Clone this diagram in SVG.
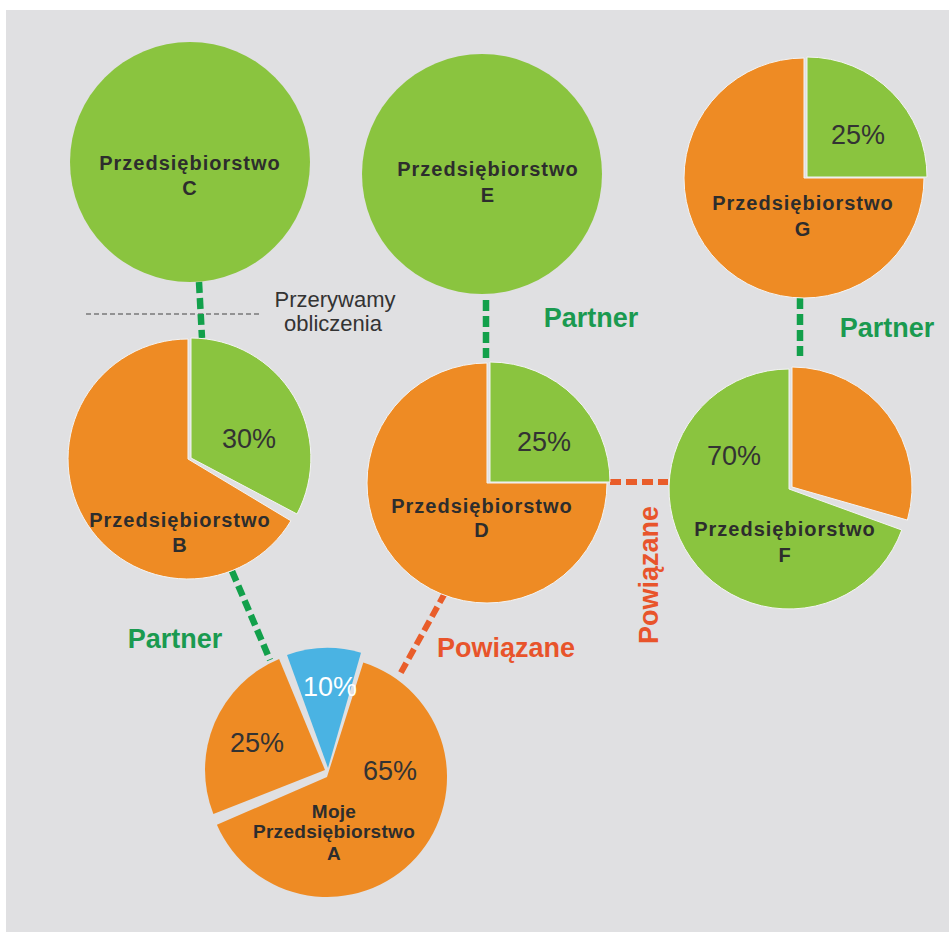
<svg xmlns="http://www.w3.org/2000/svg" width="949" height="932" viewBox="0 0 949 932">
<style>
.g{fill:#8ac43f}
.o{fill:#ee8b24}
.b{fill:#4ab3e3}
.sl{stroke:#f4f4f4;stroke-width:1}
.nl{font-family:"Liberation Sans",Arial,sans-serif;font-weight:bold;font-size:20px;letter-spacing:1px;fill:#2d2d2d;text-anchor:middle}
.al{font-family:"Liberation Sans",Arial,sans-serif;font-weight:bold;font-size:19px;letter-spacing:0.3px;fill:#2d2d2d;text-anchor:middle}
.pc{font-family:"Liberation Sans",Arial,sans-serif;font-size:27px;fill:#333;text-anchor:middle}
.lp{font-family:"Liberation Sans",Arial,sans-serif;font-weight:bold;font-size:27px;fill:#1a9a50;text-anchor:middle}
.lr{font-family:"Liberation Sans",Arial,sans-serif;font-weight:bold;font-size:27px;fill:#e8542b;text-anchor:middle}
.cg{stroke:#12a04b;stroke-width:6.5;stroke-dasharray:11 5;fill:none}
.cr{stroke:#e95d2a;stroke-width:6;stroke-dasharray:11 5;fill:none}
</style>
<rect x="6" y="10" width="943" height="922" fill="#e0e0e2"/>

<g id="connectors">
<line x1="86" y1="314" x2="262" y2="314" stroke="#444" stroke-width="1" stroke-dasharray="5 3"/>
<line class="cg" x1="199" y1="282" x2="202" y2="338"/>
<line class="cg" x1="486" y1="300" x2="486" y2="358"/>
<line class="cg" x1="800" y1="298" x2="800" y2="356"/>
<line class="cg" x1="232" y1="571" x2="270" y2="660"/>
<line class="cr" x1="445" y1="593" x2="399" y2="676"/>
<line class="cr" x1="610" y1="482" x2="668" y2="482"/>
<text x="335" y="307" font-family="'Liberation Sans',Arial,sans-serif" font-size="22" fill="#333" text-anchor="middle">Przerywamy</text>
<text x="333" y="331" font-family="'Liberation Sans',Arial,sans-serif" font-size="22" fill="#333" text-anchor="middle">obliczenia</text>
<text class="lp" x="175" y="648">Partner</text>
<text class="lp" x="591" y="327">Partner</text>
<text class="lp" x="887" y="337">Partner</text>
<text class="lr" x="506" y="657">Powiązane</text>
<text class="lr" transform="translate(658,575) rotate(-90)" x="0" y="0">Powiązane</text>
</g>

<g id="nodeC">
<circle class="g" cx="190" cy="162" r="120"/>
<text class="nl" x="190" y="170">Przedsiębiorstwo</text>
<text class="nl" x="190" y="195">C</text>
</g>

<g id="nodeE">
<circle class="g" cx="482" cy="174" r="120"/>
<text class="nl" x="488" y="176">Przedsiębiorstwo</text>
<text class="nl" x="488" y="202">E</text>
</g>

<g id="nodeG">
<path class="o sl" d="M804,178 L924,178 A120,120 0 1 1 804,58 Z"/>
<path class="g sl" d="M807,177 L807,57 A120,120 0 0 1 927,177 Z"/>
<text class="pc" x="858" y="144">25%</text>
<text class="nl" x="803" y="210">Przedsiębiorstwo</text>
<text class="nl" x="803" y="236">G</text>
</g>

<g id="nodeB">
<path class="o sl" d="M188,459 L290.9,520.8 A120,120 0 1 1 188,339 Z"/>
<path class="g sl" d="M191,458 L191,338 A120,120 0 0 1 297,514 Z"/>
<text class="pc" x="249" y="448">30%</text>
<text class="nl" x="180" y="527">Przedsiębiorstwo</text>
<text class="nl" x="180" y="552">B</text>
</g>

<g id="nodeD">
<path class="o sl" d="M487,483 L607,483 A120,120 0 1 1 487,363 Z"/>
<path class="g sl" d="M490,482 L490,362 A120,120 0 0 1 610,482 Z"/>
<text class="pc" x="544" y="451">25%</text>
<text class="nl" x="482" y="513">Przedsiębiorstwo</text>
<text class="nl" x="482" y="537">D</text>
</g>

<g id="nodeF">
<path class="g sl" d="M789,489 L901.8,530 A120,120 0 1 1 789,369 Z"/>
<path class="o sl" d="M792,487 L792,367 A120,120 0 0 1 907.4,520.1 Z"/>
<text class="pc" x="734" y="465">70%</text>
<text class="nl" x="785" y="536">Przedsiębiorstwo</text>
<text class="nl" x="785" y="562">F</text>
</g>

<g id="nodeA">
<path class="o" d="M327,777 L363.3,662.6 A120,120 0 1 1 216.9,824.7 Z"/>
<path class="o" d="M325,770 L213.4,814 A120,120 0 0 1 279.1,659.1 Z"/>
<path class="b" d="M328,768 L287,655 A120,120 0 0 1 361,652.7 Z"/>
<text class="pc" x="330" y="696" style="fill:#fff">10%</text>
<text class="pc" x="257" y="752">25%</text>
<text class="pc" x="390" y="780">65%</text>
<text class="al" x="334" y="818">Moje</text>
<text class="al" x="334" y="838">Przedsiębiorstwo</text>
<text class="al" x="334" y="860">A</text>
</g>
</svg>
